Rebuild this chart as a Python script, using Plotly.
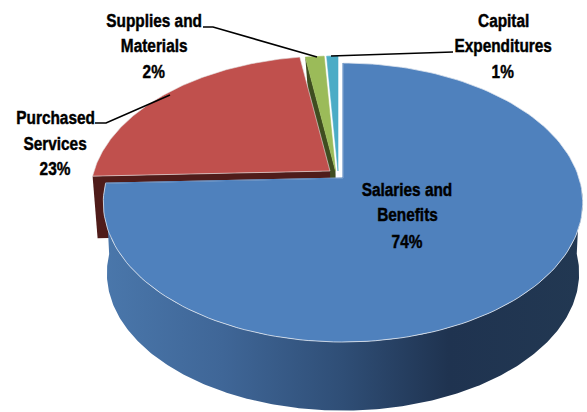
import numpy as np
import plotly.graph_objects as go

categories = ["Salaries and Benefits", "Purchased Services", "Supplies and Materials", "Capital Expenditures"]
values = [74.4, 23.2, 1.5, 0.9]
top_colors = ["#4f81bd", "#c0504d", "#9bbb59", "#4bacc6"]
side_colors = ["#2f4d75", "#4f1c1a", "#3f4d20", "#2a6475"]
apexes = [(343, 178), (330, 171), (335.5, 171), (338, 171)]
label_lines = [["Salaries and", "Benefits"], ["Purchased", "Services"], ["Supplies and", "Materials"], ["Capital", "Expenditures"]]
label_pos = [(407, [189, 214, 241]), (55, [117, 143, 168]), (154, [20, 45, 71]), (503, [20, 45, 71])]
leaders = [None, ([95, 106, 170], [123, 123, 95]), ([203, 213, 317], [27, 27, 57]), ([331, 453], [56, 52])]

A, B, K, DEPTH = 236.0, 135.2, 0.1757, 65


def project(theta_deg, apex, scale=1.0, dy=0.0):
    t = np.radians(theta_deg)
    X, Y = np.sin(t), np.cos(t)
    d = 1 + K * Y
    return apex[0] + scale * A * X / d, apex[1] + dy - scale * B * Y / d


fractions = np.cumsum([0] + values) / sum(values) * 360
spans = [(fractions[i], fractions[i + 1]) for i in range(len(values))]


def wedge(i):
    a0, a1 = spans[i]
    th = np.linspace(a0, a1, 160)
    x, y = project(th, apexes[i])
    return [apexes[i][0], *x, apexes[i][0]], [apexes[i][1], *y, apexes[i][1]]


def radial_side(i, angle, depth):
    ex, ey = project(angle, apexes[i])
    ax, ay = apexes[i]
    return [ax, float(ex), float(ex) + 5, ax + 1, ax], [ay, float(ey), float(ey) + depth, ay + depth, ay]


def poly(x, y, color, line=None, width=0, **kw):
    return go.Scatter(x=x, y=y, mode="lines", fill="toself", fillcolor=color,
                      line=dict(color=line or color, width=width), hoverinfo="skip", showlegend=False, **kw)


fig = go.Figure()

# exposed cut faces of exploded slices
x, y = radial_side(2, spans[2][0], DEPTH)
fig.add_trace(poly(x, y, side_colors[2]))
x, y = radial_side(1, spans[1][0], DEPTH - 3)
fig.add_trace(poly(x, y, side_colors[1]))

# small + red top surfaces
for i in (3, 2, 1):
    x, y = wedge(i)
    fig.add_trace(poly(x, y, top_colors[i], line="#e4e4e4" if i == 1 else top_colors[i], width=0.6))

# blue rim with horizontal shading
th = np.linspace(92, spans[0][1], 300)
tx, ty = project(th, apexes[0])
bx, by = project(th[::-1], apexes[0], scale=0.985, dy=DEPTH + 6)
fig.add_trace(go.Scatter(
    x=[*tx, *bx, tx[0]], y=[*ty, *by, ty[0]], mode="lines", fill="toself",
    line=dict(color="rgba(0,0,0,0)", width=0), hoverinfo="skip", showlegend=False,
    fillgradient=dict(type="horizontal", colorscale=[
        [0, "#4a77ab"], [0.25, "#3f6697"], [0.5, "#2f4e76"], [0.72, "#1f3350"], [1, "#223852"]]),
))

# blue top surface
x, y = wedge(0)
fig.add_trace(poly(x, y, top_colors[0], line="#dfe6ef", width=0.8))
fig.add_trace(go.Scatter(x=[x[1], x[0], x[-2]], y=[y[1], y[0], y[-2]], mode="lines",
                         line=dict(color=top_colors[0], width=1), hoverinfo="skip", showlegend=False))

# leader lines
for ld in leaders:
    if ld:
        fig.add_trace(go.Scatter(x=ld[0], y=ld[1], mode="lines", line=dict(color="#000000", width=1.6),
                                 hoverinfo="skip", showlegend=False))

# labels
font = dict(family="Liberation Sans, Arial", size=19, color="#000000")
for i, (cx, ys) in enumerate(label_pos):
    texts = label_lines[i] + [f"{round(values[i] + 0.01)}%"]
    for t, yy in zip(texts, ys):
        fig.add_annotation(x=cx, y=yy, text=f"<b>{t}</b>", showarrow=False, font=font,
                           xanchor="center", yanchor="middle")

fig.update_layout(
    width=587, height=412, margin=dict(l=0, r=0, t=0, b=0),
    paper_bgcolor="white", plot_bgcolor="white", showlegend=False,
    xaxis=dict(range=[0, 587], visible=False, fixedrange=True),
    yaxis=dict(range=[412, 0], visible=False, fixedrange=True),
)
post = """
document.body.style.margin = '0';
var s = document.createElement('style');
s.textContent = '.annotation-text{transform-box:fill-box;transform-origin:center;transform:scaleX(0.81);stroke:#000;stroke-width:0.45px;}';
document.head.appendChild(s);
"""
fig.write_html("out.html", config=dict(displayModeBar=False), post_script=post)
